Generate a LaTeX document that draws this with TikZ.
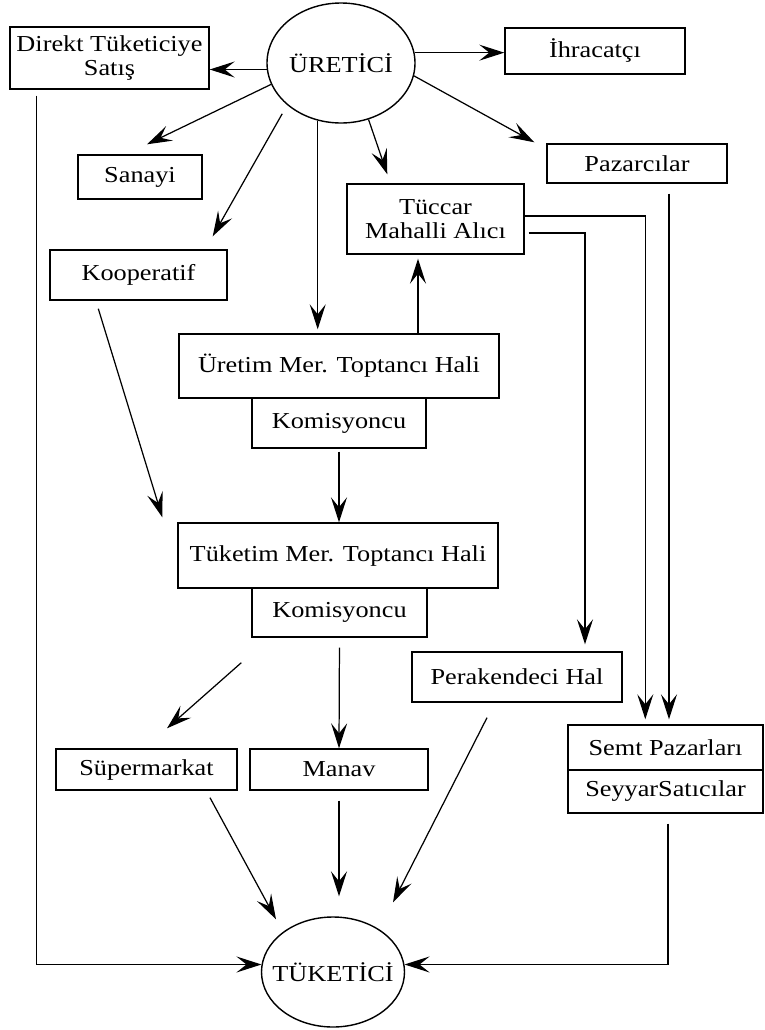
\documentclass[tikz,border=0pt]{standalone}
\usepackage{fontspec}
\setmainfont[FakeStretch=1.15]{Liberation Serif}
\usetikzlibrary{calc,shapes.geometric,arrows.meta,positioning}

\begin{document}
\begin{tikzpicture}[x=0.2mm,y=0.2mm]
	\tikzstyle{every node}+=[inner sep=0pt, font=\fontsize{13}{14}\selectfont]
	\tikzstyle{kutu}=[draw, rectangle, align=center, line width=0.8pt]
	\tikzstyle{elips}=[draw, ellipse, line width=0.8pt]
	\tikzstyle{ok}=[-{Stealth[length=5mm,width=3.2mm,inset=2mm]}, line width=0.7pt]
	\useasboundingbox (0,0) rectangle (765,-1030);
	% uretici ve ilk kademe
	\node [elips, minimum width=29.6mm, minimum height=24mm] (uretici) at (341,-63) {ÜRETİCİ};
	\node [kutu, minimum width=39.8mm, minimum height=12.4mm] (direkt) at (109.5,-58) {Direkt Tüketiciye\\Satış};
	\node [kutu, minimum width=36mm, minimum height=9.2mm] (ihracatci) at (595,-51) {İhracatçı};
	\node [kutu, minimum width=36mm, minimum height=7.8mm] (pazarcilar) at (637,-163.5) {Pazarcılar};
	\node [kutu, minimum width=24.8mm, minimum height=8.8mm] (sanayi) at (140,-177) {Sanayi};
	\node [kutu, minimum width=35.4mm, minimum height=10mm] (kooperatif) at (138.5,-275) {Kooperatif};
	\node [kutu, minimum width=35.4mm, minimum height=14mm] (tuccar) at (435.5,-219) {Tüccar\\Mahalli Alıcı};
	% haller
	\node [kutu, minimum width=64mm, minimum height=12.8mm] (uretim) at (339,-366) {Üretim Mer. Toptancı Hali};
	\node [kutu, minimum width=34.8mm, minimum height=10mm] (komis1) at (339,-423) {Komisyoncu};
	\node [kutu, minimum width=64mm, minimum height=13mm] (tuketim) at (338,-555.5) {Tüketim Mer. Toptancı Hali};
	\node [kutu, minimum width=35mm, minimum height=9.8mm] (komis2) at (339.5,-612.5) {Komisyoncu};
	\node [kutu, minimum width=42mm, minimum height=10mm] (perakende) at (517,-677) {Perakendeci Hal};
	\node [kutu, minimum width=39mm, minimum height=9mm] (semt) at (665.5,-747.5) {Semt Pazarları};
	\node [kutu, minimum width=39mm, minimum height=8.6mm] (seyyar) at (665.5,-791.5) {SeyyarSatıcılar};
	\node [kutu, minimum width=36.2mm, minimum height=8.2mm] (supermarket) at (146.5,-769.5) {Süpermarkat};
	\node [kutu, minimum width=35.6mm, minimum height=8.2mm] (manav) at (339,-769.5) {Manav};
	\node [elips, inner xsep=-2.2mm, minimum width=28.6mm, minimum height=22mm] (tuketici) at (333,-972) {TÜKETİCİ};
	% oklar
	\draw [ok] (uretici.185) -- (uretici.185 -| direkt.east);
	\draw [ok] (uretici.8) -- (uretici.8 -| ihracatci.west);
	\draw [ok] (uretici.-10) -- ($(pazarcilar.north west)+(-12,1)$);
	\draw [ok] (uretici.197) -- ($(sanayi.north)+(7,10)$);
	\draw [ok, shorten <=2mm] (uretici.218) -- ($(kooperatif.north east)+(-15,13)$);
	\draw [ok, shorten >=0.8mm] (uretici.248) -- (uretici.248 |- uretim.north);
	\draw [ok] (uretici.296) -- ($(tuccar.north west)+(41,9)$);
	\coordinate (tucalt) at ($(tuccar.south)+(-17.5,-4)$);
	\draw [ok] (uretim.north -| tucalt) -- (tucalt);
	\draw [ok, shorten <=0.6mm] (komis1.south) -- (komis1.south |- tuketim.north);
	\draw [ok] ($(kooperatif.south west)+(49,-8)$) -- ($(tuketim.north west)+(-15,5)$);
	\draw [ok] ($(komis2.south west)+(-10,-25)$) -- ($(supermarket.north)+(20.5,20)$);
	\draw [ok, shorten <=2mm] (komis2.south) -- (manav.north);
	\draw [ok] ($(tuccar.east)+(4,-14)$) -| ($(perakende.north)+(68,7)$);
	\draw [ok] ($(tuccar.east)+(0,3)$) -| ($(semt.north west)+(78,5)$);
	\draw [ok] ($(pazarcilar.south)+(32,-10)$) -- ($(pazarcilar.south |- semt.north)+(32,5)$);
	\draw [ok] ($(supermarket.south)+(63.5,-7)$) -- ($(tuketici.north)+(-57,-3)$);
	\draw [ok, shorten <=2mm, shorten >=4mm] (manav.south) -- (manav.south |- tuketici.north);
	\draw [ok] ($(perakende.south)+(-30,-15)$) -- ($(tuketici.north)+(60,14)$);
	\draw [ok] ($(direkt.south west)+(27,-6)$) |- (tuketici.174);
	\draw [ok] ($(seyyar.south)+(2.5,-10)$) |- (tuketici.6);
\end{tikzpicture}
\end{document}
